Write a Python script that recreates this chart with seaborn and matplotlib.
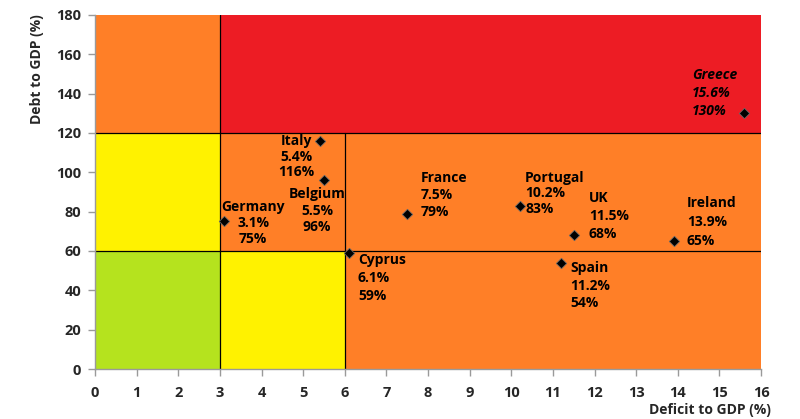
import matplotlib
matplotlib.use("Agg")
import matplotlib.pyplot as plt
import seaborn as sns
import pandas as pd
from matplotlib.patches import Rectangle

# ---- data ----
countries = ["Germany", "Italy", "Belgium", "Cyprus", "France", "Portugal", "UK", "Spain", "Ireland", "Greece"]
deficit = [3.1, 5.4, 5.5, 6.1, 7.5, 10.2, 11.5, 11.2, 13.9, 15.6]
debt = [75, 116, 96, 59, 79, 83, 68, 54, 65, 130]
deficit_labels = ["3.1%", "5.4%", "5.5%", "6.1%", "7.5%", "10.2%", "11.5%", "11.2%", "13.9%", "15.6%"]
debt_labels = ["75%", "116%", "96%", "59%", "79%", "83%", "68%", "54%", "65%", "130%"]

deficit_thresholds = [3, 6]
debt_thresholds = [60, 120]
x_max, y_max = 16, 180

df = pd.DataFrame({"country": countries, "deficit": deficit, "debt": debt})

# ---- style ----
sns.set_style("white")
plt.rcParams["font.family"] = ["Open Sans", "DejaVu Sans"]
plt.rcParams["font.weight"] = "bold"
plt.rcParams["axes.labelweight"] = "bold"

fig = plt.figure(figsize=(8, 4.19), dpi=100)
ax = fig.add_axes([95 / 800, 50 / 419, 666 / 800, 354 / 419])

GREEN = "#B5E31E"
YELLOW = "#FFF200"
ORANGE = "#FF7F27"
RED = "#ED1C24"

d1, d2 = deficit_thresholds
b1, b2 = debt_thresholds
zones = [
    (0, 0, d1, b1, GREEN),
    (0, b1, d1, b2 - b1, YELLOW),
    (d1, 0, d2 - d1, b1, YELLOW),
    (0, b2, d1, y_max - b2, ORANGE),
    (d1, b2, x_max - d1, y_max - b2, RED),
    (d1, b1, x_max - d1, b2 - b1, ORANGE),
    (d2, 0, x_max - d2, b2, ORANGE),
]
for x0, y0, w, h, c in zones:
    ax.add_patch(Rectangle((x0, y0), w, h, facecolor=c, edgecolor="none", zorder=0))

lw = 0.9
ax.plot([d1, d1], [0, y_max], color="black", lw=lw, zorder=1)
ax.plot([d2, d2], [0, b2], color="black", lw=lw, zorder=1)
ax.plot([0, x_max], [b1, b1], color="black", lw=lw, zorder=1)
ax.plot([0, x_max], [b2, b2], color="black", lw=lw, zorder=1)

sns.scatterplot(data=df, x="deficit", y="debt", marker="D", s=28, color="black",
                edgecolor="#666666", linewidth=0.6, ax=ax, zorder=3, legend=False)

# label offsets (points), alignment, linespacing
label_style = {
    "Germany": ((21, -1), "center", 1.17),
    "Italy": ((-17, -11.5), "center", 1.14),
    "Belgium": ((-5, -22), "center", 1.24),
    "Cyprus": ((6.5, -18), "left", 1.34),
    "France": ((10, 13.4), "left", 1.31),
    "Portugal": ((4, 9), "left", 1.14),
    "UK": ((11, 14), "left", 1.34),
    "Spain": ((6.5, -16.6), "left", 1.31),
    "Ireland": ((9.6, 13.8), "left", 1.48),
    "Greece": ((-37.7, 14.6), "left", 1.38),
}
for c, x, y, dl, bl in zip(countries, deficit, debt, deficit_labels, debt_labels):
    off, ha, ls = label_style[c]
    italic = c == "Greece"
    ax.annotate(f"{c}\n{dl}\n{bl}", (x, y), xytext=off, textcoords="offset points",
                ha=ha, va="center", multialignment=ha, fontsize=10, fontweight="bold",
                fontstyle="italic" if italic else "normal",
                color="black", linespacing=ls, zorder=4)

ax.set_xlim(0, x_max)
ax.set_ylim(0, y_max)
ax.set_xticks(range(0, x_max + 1, 1))
ax.set_yticks(range(0, y_max + 1, 20))
ax.tick_params(axis="x", pad=7)
ax.tick_params(axis="y", pad=5)
ax.tick_params(axis="both", direction="out", length=5, width=1, color="#9a9a9a",
               bottom=True, left=True, labelsize=10.5)

for s in ["top", "right"]:
    ax.spines[s].set_visible(False)
for s in ["left", "bottom"]:
    ax.spines[s].set_color("#9a9a9a")
    ax.spines[s].set_linewidth(1)
    ax.spines[s].set_zorder(5)

ax.set_xlabel("Deficit to GDP (%)", fontsize=10, fontweight="bold")
ax.set_ylabel("Debt to GDP (%)", fontsize=10, fontweight="bold")
ax.xaxis.set_label_coords(0.923, -0.096)
ax.yaxis.set_label_coords(-0.077, 0.847)

fig.savefig("out.png", dpi=100)
